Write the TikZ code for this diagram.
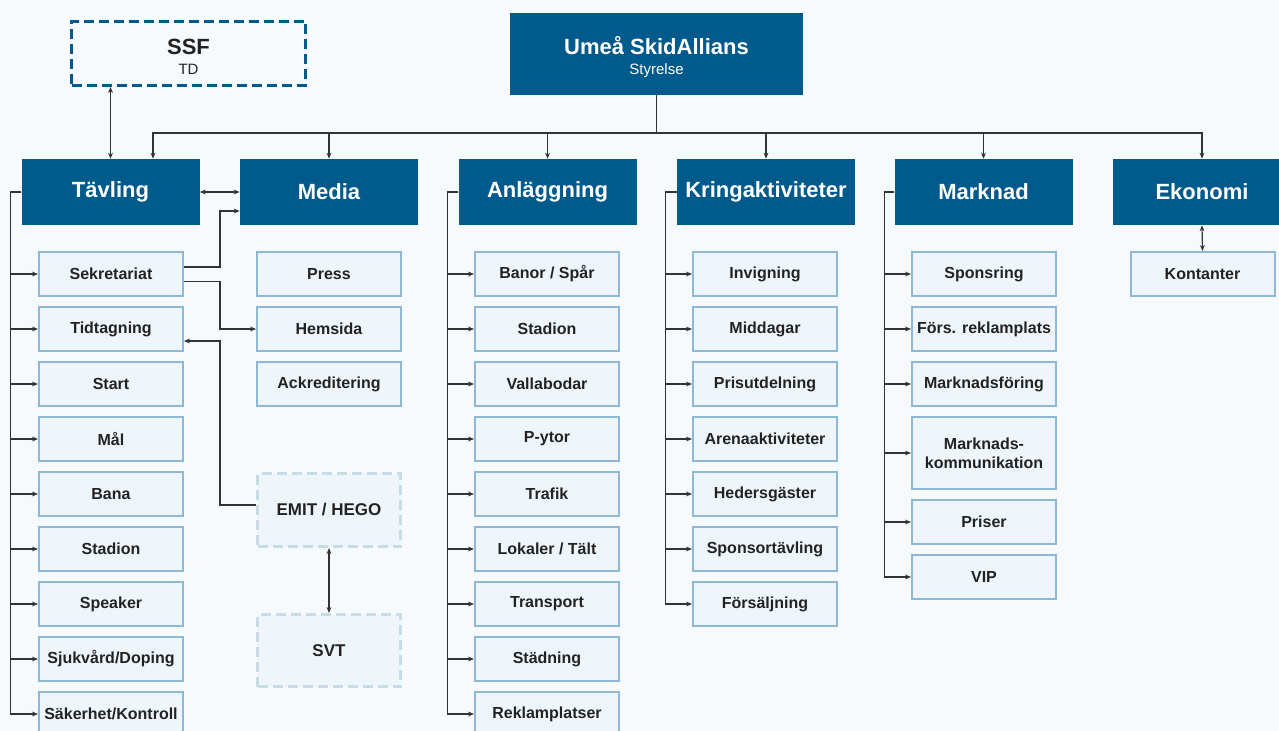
\documentclass[tikz,border=0pt]{standalone}
\usepackage{fontspec}
\setmainfont{Liberation Sans}
\usetikzlibrary{arrows.meta, calc}

\definecolor{navy}{HTML}{005A8C}
\definecolor{itemfill}{HTML}{EEF6FC}
\definecolor{itemline}{HTML}{8DB9D6}
\definecolor{ghostline}{HTML}{C8DCE8}
\definecolor{ink}{HTML}{222222}
\definecolor{wire}{HTML}{333333}
\definecolor{paper}{HTML}{F6FAFD}

\tikzset{
    head/.style={fill=navy, text=white, inner sep=0pt,
        font=\fontsize{16.5}{19}\selectfont\bfseries,
        minimum width=133.5pt, minimum height=49.5pt},
    title/.style={inner sep=0pt, align=center,
        font=\fontsize{16.5}{19}\selectfont\bfseries},
    item/.style={draw=itemline, line width=1.5pt, fill=itemfill, text=ink,
        inner sep=0pt, align=center,
        font=\fontsize{12}{14.25}\selectfont\bfseries,
        minimum width=108pt, minimum height=33pt},
    ghost/.style={draw=ghostline, line width=2.25pt, fill=itemfill, text=ink,
        dash pattern=on 7.5pt off 3.75pt, inner sep=0pt,
        font=\fontsize{12.75}{15}\selectfont\bfseries,
        minimum width=107.25pt, minimum height=54.75pt},
    wireline/.style={draw=wire, line width=0.9pt},
    arr/.style={wireline, -{Stealth[length=4.5pt, width=3.6pt]}},
    darr/.style={wireline, {Stealth[length=4.5pt, width=3.6pt]}-{Stealth[length=4.5pt, width=3.6pt]}}
}

\begin{document}
\begin{tikzpicture}[x=0.75pt, y=-0.75pt]
    % Page and background
    \fill[paper] (0,0) rectangle (1279,731);
    \useasboundingbox (0,0) rectangle (1279,731);

    % Board and federation
    \node[head, minimum width=219.75pt, minimum height=61.5pt] (usa) at (656.5,54) {};
    \node[title, text=white] (usat) at ($(usa.center)+(0,3)$)
        {Umeå SkidAllians\\[-4pt]{\fontsize{11.25}{13}\selectfont\mdseries Styrelse}};
    \node[draw=navy, line width=2.25pt, dash pattern=on 7.5pt off 3.75pt, fill=paper,
        inner sep=0pt, minimum width=175.5pt, minimum height=48pt] (ssf) at (188.5,53.5) {};
    \node[title, text=ink] (ssft) at ($(ssf.center)+(0,3)$)
        {SSF\\[-4pt]{\fontsize{11.25}{13}\selectfont\mdseries TD}};

    % Areas
    \node[head] (tav) at (110.5,192) {Tävling};
    \node[head] (med) at (329,192) {Media};
    \node[head] (anl) at (547.5,192) {Anläggning};
    \node[head] (kri) at (766,192) {Kringaktiviteter};
    \node[head] (mar) at (983.5,192) {Marknad};
    \node[head] (eko) at (1202,192) {Ekonomi};

    % Tävling groups
    \node[item] (sek) at (111,274) {Sekretariat};
    \node[item] (tid) at (111,329) {Tidtagning};
    \node[item] (sta) at (111,384) {Start};
    \node[item] (mal) at (111,439) {Mål};
    \node[item] (ban) at (111,494) {Bana};
    \node[item] (std) at (111,549) {Stadion};
    \node[item] (spk) at (111,604) {Speaker};
    \node[item] (sjk) at (111,659) {Sjukvård/Doping};
    \node[item] (skh) at (111,714) {Säkerhet/Kontroll};

    % Media groups and partners
    \node[item] (pre) at (329,274) {Press};
    \node[item] (hem) at (329,329) {Hemsida};
    \node[item] (ack) at (329,384) {Ackreditering};
    \node[ghost] (emit) at (329,510) {EMIT / HEGO};
    \node[ghost, minimum height=54pt] (svt) at (329,650.5) {SVT};

    % Anläggning groups
    \node[item] (bsp) at (547,274) {Banor / Spår};
    \node[item] (ast) at (547,329) {Stadion};
    \node[item] (val) at (547,384) {Vallabodar};
    \node[item] (pyt) at (547,439) {P-ytor};
    \node[item] (tra) at (547,494) {Trafik};
    \node[item] (lok) at (547,549) {Lokaler / Tält};
    \node[item] (tsp) at (547,604) {Transport};
    \node[item] (stn) at (547,659) {Städning};
    \node[item] (rek) at (547,714) {Reklamplatser};

    % Kringaktiviteter groups
    \node[item] (inv) at (765,274) {Invigning};
    \node[item] (mid) at (765,329) {Middagar};
    \node[item] (pri) at (765,384) {Prisutdelning};
    \node[item] (are) at (765,439) {Arenaaktiviteter};
    \node[item] (hed) at (765,494) {Hedersgäster};
    \node[item] (spt) at (765,549) {Sponsortävling};
    \node[item] (frs) at (765,604) {Försäljning};

    % Marknad groups
    \node[item] (spo) at (984,274) {Sponsring};
    \node[item] (frk) at (984,329) {Förs. reklamplats};
    \node[item] (mfo) at (984,384) {Marknadsföring};
    \node[item, minimum height=54pt] (mko) at (984,453) {Marknads-\\kommunikation};
    \node[item] (prs) at (984,522) {Priser};
    \node[item] (vip) at (984,577) {VIP};

    % Ekonomi group
    \node[item] (kon) at (1202.5,274) {Kontanter};

    % Board to areas
    \coordinate (bus) at (656.5,133);
    \draw[wireline] (usa.south) -- (bus);
    \draw[arr] (bus) -| ($(tav.north)+(42.5,0)$);
    \foreach \n in {med, anl, kri, mar, eko}
        \draw[arr] (bus) -| (\n.north);

    % Areas to their groups
    \foreach \n in {sek, tid, sta, mal, ban, std, spk, sjk, skh}
        \draw[arr] (tav.west) -- ++(-10.5,0) |- (\n.west);
    \foreach \n in {bsp, ast, val, pyt, tra, lok, tsp, stn, rek}
        \draw[arr] (anl.west) -- ++(-11,0) |- (\n.west);
    \foreach \n in {inv, mid, pri, are, hed, spt, frs}
        \draw[arr] (kri.west) -- ++(-11,0) |- (\n.west);
    \foreach \n in {spo, frk, mfo, mko, prs, vip}
        \draw[arr] (mar.west) -- ++(-10,0) |- (\n.west);

    % Cross links
    \draw[darr] (ssf.south -| tav.north) -- (tav.north);
    \draw[darr] (tav.east) -- (med.west);
    \draw[darr] (eko.south) -- (kon.north);
    \draw[darr] (emit.south) -- (svt.north);
    \draw[arr] ($(sek.east)+(0,-7)$) -- ++(36,0) |- ($(med.west)+(0,19)$);
    \draw[arr] ($(sek.east)+(0,7.5)$) -- ++(36,0) |- (hem.west);
    \draw[arr] ($(emit.west)+(0,-5)$) -- ++(-36,0) |- ($(tid.east)+(0,12)$);
\end{tikzpicture}
\end{document}
